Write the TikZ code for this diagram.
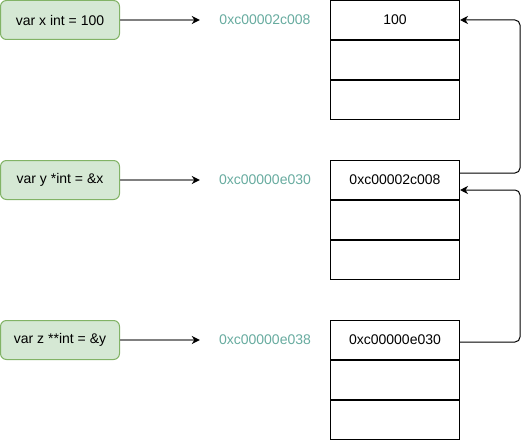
\documentclass[tikz,border=0pt]{standalone}
\usepackage{fontspec}
\setmainfont{Liberation Sans}
\usepackage{xcolor}
\usetikzlibrary{arrows.meta}
\definecolor{varfill}{HTML}{D5E8D4}
\definecolor{varline}{HTML}{82B366}
\definecolor{addrcol}{HTML}{67AB9F}

\begin{document}
\begin{tikzpicture}[x=1pt, y=-1pt, font=\fontsize{14}{16}\selectfont,
        var/.style={draw=varline, fill=varfill, rounded corners=6pt, line width=1pt, minimum width=119pt, minimum height=39pt, inner sep=0pt},
        addr/.style={text=addrcol, minimum width=130pt, inner sep=0pt},
        cell/.style={draw, line width=1pt, minimum width=129pt, minimum height=39pt, inner sep=0pt},
        tip/.style={line width=1pt, -{Stealth[length=8pt, width=8pt, inset=2.5pt, black]}}]
                \useasboundingbox (0,0) rectangle (529,441);
                \node[var] at (60,20) (vx) {var x int = 100};
                \node[var] at (60,180) (vy) {var y *int = \&x};
                \node[var] at (60,340) (vz) {var z **int = \&y};
                \node[addr] at (265,20) (ax) {0xc00002c008};
                \node[addr] at (265,180) (ay) {0xc00000e030};
                \node[addr] at (265,340) (az) {0xc00000e038};
                \node[cell] at (395,20) (mx1) {100};
                \node[cell] at (395,60) (mx2) {};
                \node[cell] at (395,100) (mx3) {};
                \node[cell] at (395,180) (my1) {0xc00002c008};
                \node[cell] at (395,220) (my2) {};
                \node[cell] at (395,260) (my3) {};
                \node[cell] at (395,340) (mz1) {0xc00000e030};
                \node[cell] at (395,420) (mz3) {};
                \node[cell] at (395,380) (mz2) {};
                \path
                    (vx.east)  edge [tip, line width=1.6pt, draw=black!50] (ax.west)
                    (vy.east)  edge [tip, line width=1.6pt, draw=black!50] (ay.west)
                    (vz.east)  edge [tip, line width=1.6pt, draw=black!50] (az.west);
                \draw[tip, rounded corners=5pt] ([yshift=7pt]my1.east) -- ++(60,0) |- (mx1.east);
                \draw[tip, rounded corners=5pt] ([yshift=-2pt]mz1.east) -- ++(60,0) |- ([yshift=-10pt]my1.east);
            \end{tikzpicture}
\end{document}
